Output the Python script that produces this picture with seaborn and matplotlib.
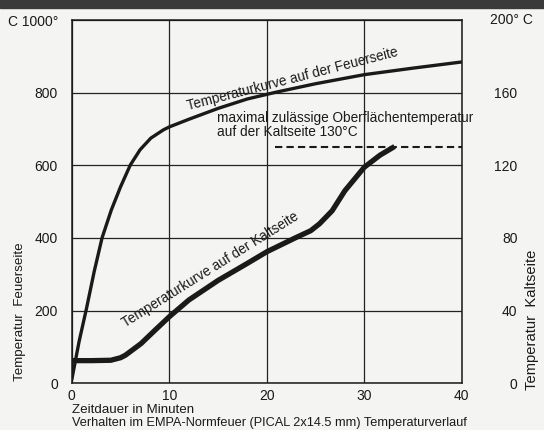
import pandas as pd
import matplotlib.pyplot as plt
import seaborn as sns
from matplotlib.patches import Rectangle

# Werte
zeit_feuer = [0, 0.75, 1.5, 2.3, 3.1, 4.05, 5.0, 6.0, 7.0, 8.1, 9.4, 10, 12, 15, 18, 21, 25, 30, 35, 40]
temp_feuer = [10, 115, 205, 308, 400, 477, 541, 601, 643, 675, 698, 706, 727, 757, 783, 802, 825, 850, 868, 885]

zeit_kalt = [0, 2, 4, 5, 5.5, 7.1, 8.5, 10, 12, 15, 18, 20, 22.9, 24.5, 25.4, 26.7, 28, 30, 31.6, 33.1]
temp_kalt = [62, 62, 63, 70, 77, 109, 145, 183, 229, 283, 330, 362, 400, 420, 439, 475, 530, 595, 628, 652]

grenze_zeit = [20.8, 40]
grenze_temp = [652, 652]

x_ticks = [0, 10, 20, 30, 40]
y_ticks_links = [0, 200, 400, 600, 800, 1000]
y_labels_links = ["0", "200", "400", "600", "800", "C 1000°"]
y_ticks_rechts = [0, 40, 80, 120, 160]
y_labels_rechts = ["0", "40", "80", "120", "160"]

df_feuer = pd.DataFrame({"Zeit": zeit_feuer, "Temp": temp_feuer})
df_kalt = pd.DataFrame({"Zeit": zeit_kalt, "Temp": temp_kalt})

sns.set_style("white")
plt.rcParams['font.family'] = ['Liberation Sans', 'DejaVu Sans']

tinte = '#1a1a1a'
fig = plt.figure(figsize=(5.44, 4.30), dpi=100)
fig.patch.set_facecolor('#f4f4f2')
ax = fig.add_axes([0.132, 0.109, 0.717, 0.844])
ax.set_facecolor('#f4f4f2')

# dunkler Rand oben (Scan)
fig.patches.append(Rectangle((0, 0.982), 1, 0.02, transform=fig.transFigure,
                             color='#3a3a3a', zorder=0))

sns.lineplot(data=df_feuer, x="Zeit", y="Temp", ax=ax, color=tinte, lw=2.4,
             solid_joinstyle='round')
sns.lineplot(data=df_kalt, x="Zeit", y="Temp", ax=ax, color=tinte, lw=3.8,
             solid_capstyle='butt', solid_joinstyle='round')
ax.plot(grenze_zeit, grenze_temp, color=tinte, lw=1.5, dashes=(3.5, 2))

ax.set_xlim(0, 40)
ax.set_ylim(0, 1000)
ax.set_xticks(x_ticks)
ax.set_yticks(y_ticks_links)
ax.set_yticklabels(y_labels_links)
ax.grid(True, color='#222222', lw=0.9)
ax.tick_params(axis='both', length=0, labelsize=10, colors=tinte)
ax.tick_params(axis='y', pad=10)
ax.tick_params(axis='x', pad=4)
for s in ax.spines.values():
    s.set_color(tinte)
    s.set_linewidth(1.1)
ax.set_xlabel("")
ax.set_ylabel("")

ax2 = ax.twinx()
ax2.set_ylim(0, 200)
ax2.set_yticks(y_ticks_rechts)
ax2.set_yticklabels(y_labels_rechts, ha='right')
ax2.tick_params(axis='y', length=0, labelsize=10, pad=40, colors=tinte)
for s in ax2.spines.values():
    s.set_visible(False)
fig.text(0.98, 0.953, "200° C", ha='right', va='center', fontsize=10, color=tinte)

# Beschriftungen an den Kurven
ax.text(22.6, 838, "Temperaturkurve auf der Feuerseite", rotation=14.5,
        ha='center', va='center', fontsize=9.8, color=tinte)
ax.text(14.2, 312, "Temperaturkurve auf der Kaltseite", rotation=32,
        ha='center', va='center', fontsize=9.8, color=tinte)
ax.text(14.9, 673, "maximal zulässige Oberflächentemperatur\nauf der Kaltseite 130°C",
        ha='left', va='bottom', fontsize=9.8, color=tinte, linespacing=0.95)

fig.text(0.132, 0.047, "Zeitdauer in Minuten", ha='left', va='center',
         fontsize=9.6, color=tinte)
fig.text(0.132, 0.016, "Verhalten im EMPA-Normfeuer (PICAL 2x14.5 mm) Temperaturverlauf",
         ha='left', va='center', fontsize=9.2, color=tinte)
fig.text(0.037, 0.114, "Temperatur  Feuerseite", rotation=90, ha='center', va='bottom',
         fontsize=9.6, color=tinte)
fig.text(0.978, 0.093, "Temperatur  Kaltseite", rotation=90, ha='center', va='bottom',
         fontsize=10.6, color=tinte)

fig.savefig("out.png", dpi=100, facecolor=fig.get_facecolor())
